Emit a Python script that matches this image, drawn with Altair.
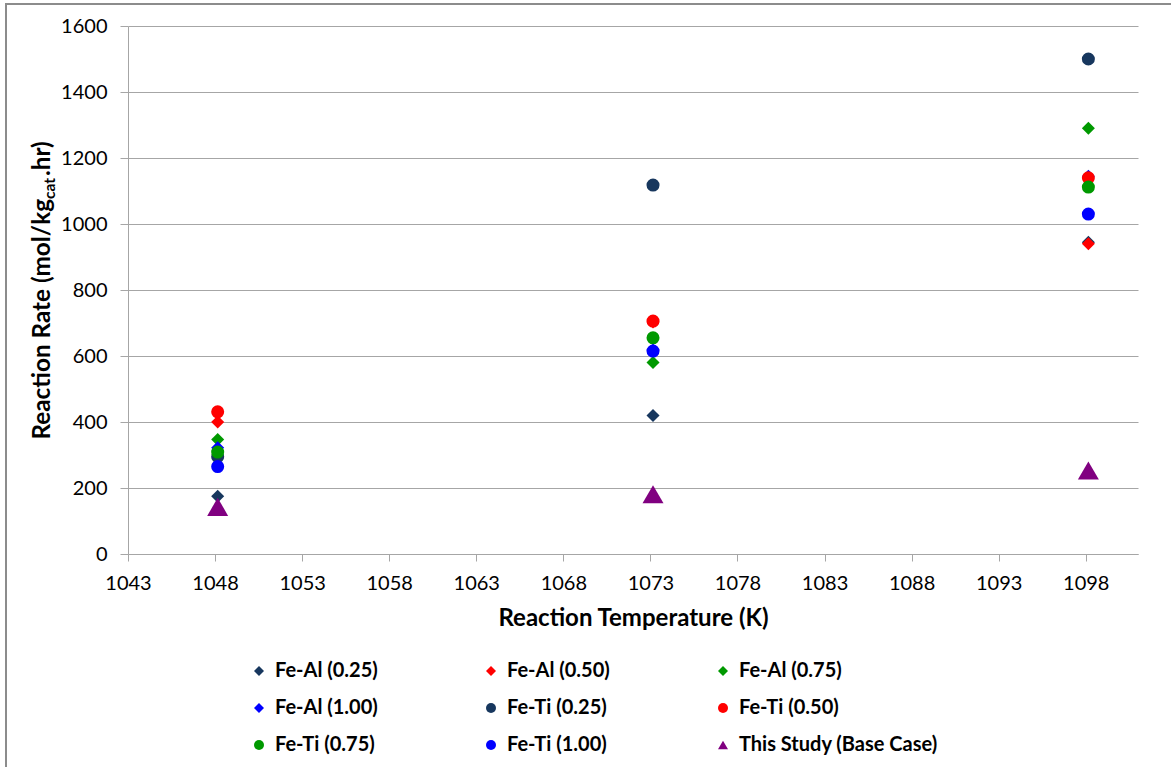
import altair as alt
import pandas as pd

# Reaction temperatures (K) at which the rates were measured
temps = [1048.15, 1073.15, 1098.15]

series_names = [
    "Fe-Al (0.25)", "Fe-Al (0.50)", "Fe-Al (0.75)", "Fe-Al (1.00)",
    "Fe-Ti (0.25)", "Fe-Ti (0.50)", "Fe-Ti (0.75)", "Fe-Ti (1.00)",
    "This Study (Base Case)",
]

# Reaction rates (mol/kg_cat.hr), one value per temperature
fe_al_025 = [175, 420, 945]
fe_al_050 = [400, 703, 940]
fe_al_075 = [347, 580, 1290]
fe_al_100 = [322, 618, 1145]
fe_ti_025 = [295, 1118, 1500]
fe_ti_050 = [431, 706, 1140]
fe_ti_075 = [309, 655, 1112]
fe_ti_100 = [265, 615, 1030]
base_case = [143, 181, 253]

series_values = [fe_al_025, fe_al_050, fe_al_075, fe_al_100,
                 fe_ti_025, fe_ti_050, fe_ti_075, fe_ti_100, base_case]

series_colors = ["#17375E", "#FF0000", "#009900", "#0000FF",
                 "#17375E", "#FF0000", "#009900", "#0000FF", "#800080"]
series_shapes = ["diamond"] * 4 + ["circle"] * 4 + ["triangle-up"]

x_ticks = [1043, 1048, 1053, 1058, 1063, 1068, 1073, 1078, 1083, 1088, 1093, 1098]
y_ticks = [0, 200, 400, 600, 800, 1000, 1200, 1400, 1600]

rows = []
for order, (name, vals) in enumerate(zip(series_names, series_values)):
    for t, v in zip(temps, vals):
        rows.append({"series": name, "temp": t, "rate": v, "order": order})
df = pd.DataFrame(rows)

W, H = 1010, 528
FONT = "Lato"
GRID = "#A6A6A6"

points = alt.Chart(df).mark_point(filled=True, opacity=1, strokeWidth=0).encode(
    x=alt.X("temp:Q",
            scale=alt.Scale(domain=[1043, 1101], nice=False, zero=False),
            axis=alt.Axis(values=x_ticks, format="d", grid=False, labelFlush=False,
                          title="Reaction Temperature (K)",
                          tickSize=7, labelPadding=12, titlePadding=13)),
    y=alt.Y("rate:Q",
            scale=alt.Scale(domain=[0, 1600], nice=False),
            axis=alt.Axis(values=y_ticks, format="d", grid=True, labelFlush=False,
                          title=None, tickSize=8, labelPadding=13)),
    color=alt.Color("series:N",
                    scale=alt.Scale(domain=series_names, range=series_colors),
                    legend=alt.Legend(title=None, orient="none", direction="horizontal",
                                      legendX=121, legendY=635,
                                      columns=3, gridAlign="each",
                                      columnPadding=103, rowPadding=17,
                                      labelFont=FONT, labelFontSize=20,
                                      labelFontWeight="bold", labelColor="#000000",
                                      labelOffset=6, symbolSize=100,
                                      symbolStrokeWidth=0, padding=0,
                                      labelLimit=400)),
    shape=alt.Shape("series:N",
                    scale=alt.Scale(domain=series_names, range=series_shapes)),
    size=alt.condition(alt.datum.series == "This Study (Base Case)",
                       alt.value(440), alt.value(170)),
    order=alt.Order("order:Q"),
)

one = pd.DataFrame({"k": [0]})

# Y-axis title with a subscripted "cat"
title_main = alt.Chart(one).mark_text(
    angle=270, align="right", baseline="alphabetic",
    font=FONT, fontSize=24.3, fontWeight="bold", color="#000000",
).encode(x=alt.value(-78), y=alt.value(173), text=alt.value("Reaction Rate (mol/kg"))

title_sub = alt.Chart(one).mark_text(
    angle=270, align="left", baseline="alphabetic",
    font=FONT, fontSize=15.5, fontWeight="bold", color="#000000",
).encode(x=alt.value(-73), y=alt.value(173), text=alt.value("cat"))

title_end = alt.Chart(one).mark_text(
    angle=270, align="left", baseline="alphabetic",
    font=FONT, fontSize=24.3, fontWeight="bold", color="#000000",
).encode(x=alt.value(-78), y=alt.value(150), text=alt.value(".hr)"))

# Outer chart border
frame = alt.Chart(one).mark_rect(
    fill=None, stroke="#8C8C8C", strokeWidth=2,
).encode(x=alt.value(-122), y=alt.value(-22), x2=alt.value(W + 60), y2=alt.value(H + 260))

chart = alt.layer(frame, points, title_main, title_sub, title_end).properties(
    width=W, height=H,
    autosize=alt.AutoSizeParams(type="none"),
    padding={"left": 128, "top": 26, "right": 33, "bottom": 213},
    background="#FFFFFF",
).configure_view(stroke=None).configure_axis(
    labelFont=FONT, labelFontSize=20, labelColor="#000000",
    titleFont=FONT, titleFontSize=24, titleFontWeight="bold", titleColor="#000000",
    domainColor=GRID, tickColor=GRID, gridColor=GRID,
    domainWidth=1, tickWidth=1, gridWidth=1,
)

chart.save("out.html", embed_options={"renderer": "svg", "actions": False})
